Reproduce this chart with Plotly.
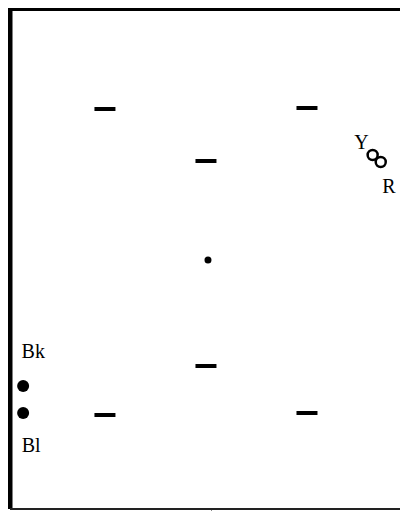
import plotly.graph_objects as go

# group means drawn as short horizontal dashes
dash_x = [1.0, 3.0, 2.0, 2.0, 1.0, 3.0]
dash_y = [8.0, 8.02, 6.96, 2.86, 1.88, 1.92]

# centre point
centre_x = [2.02]
centre_y = [4.98]

# filled points on the left (Bk, Bl)
left_x = [0.19, 0.19]
left_y = [2.46, 1.92]

# hollow points on the right (Y, R)
right_x = [3.65, 3.73]
right_y = [7.08, 6.94]

# text labels
label_text = ["Bk", "Bl", "Y", "R"]
label_x = [0.29, 0.27, 3.54, 3.81]
label_y = [3.12, 1.24, 7.3, 6.42]

serif = "Liberation Serif"

fig = go.Figure()

fig.add_trace(go.Scatter(
    x=dash_x, y=dash_y, mode="markers",
    marker={"symbol": "line-ew", "size": 15, "line": {"width": 4, "color": "black"}},
    hoverinfo="skip"))

fig.add_trace(go.Scatter(
    x=centre_x, y=centre_y, mode="markers",
    marker={"symbol": "circle", "size": 7, "color": "black"},
    hoverinfo="skip"))

fig.add_trace(go.Scatter(
    x=left_x, y=left_y, mode="markers",
    marker={"symbol": "circle", "size": 12, "color": "black"},
    hoverinfo="skip"))

fig.add_trace(go.Scatter(
    x=right_x, y=right_y, mode="markers",
    marker={"symbol": "circle-open", "size": 10, "color": "black",
            "line": {"width": 2.5, "color": "black"}},
    hoverinfo="skip"))

fig.add_trace(go.Scatter(
    x=label_x, y=label_y, mode="text", text=label_text,
    textfont={"family": serif, "size": 20, "color": "black"},
    hoverinfo="skip"))

# frame: thick left and top, thin bottom
fig.add_shape(type="line", xref="paper", yref="paper", x0=0, x1=0, y0=0, y1=1.004,
              line={"color": "black", "width": 5})
fig.add_shape(type="line", xref="paper", yref="paper", x0=-0.006, x1=1.0, y0=1, y1=1,
              line={"color": "black", "width": 4})
fig.add_shape(type="line", xref="paper", yref="paper", x0=0, x1=1.0, y0=0, y1=0,
              line={"color": "#222222", "width": 2})

# label cut off at the left edge
fig.add_annotation(xref="paper", yref="y", x=-0.008, y=3.14, text="C",
                   showarrow=False, xanchor="right",
                   font={"family": serif, "size": 20, "color": "black"})

fig.update_xaxes(range=[0.06, 4.0], showgrid=False, zeroline=False,
                 showticklabels=False, ticks="outside", tickvals=[2.05],
                 ticklen=3, tickcolor="#888888", tickwidth=1)
fig.update_yaxes(range=[0, 10], showgrid=False, zeroline=False,
                 showticklabels=False, ticks="")

fig.update_layout(
    width=400, height=503,
    margin={"l": 2, "r": 0, "t": 1, "b": 2},
    paper_bgcolor="white", plot_bgcolor="white",
    showlegend=False,
)

fig.write_html("out.html")
